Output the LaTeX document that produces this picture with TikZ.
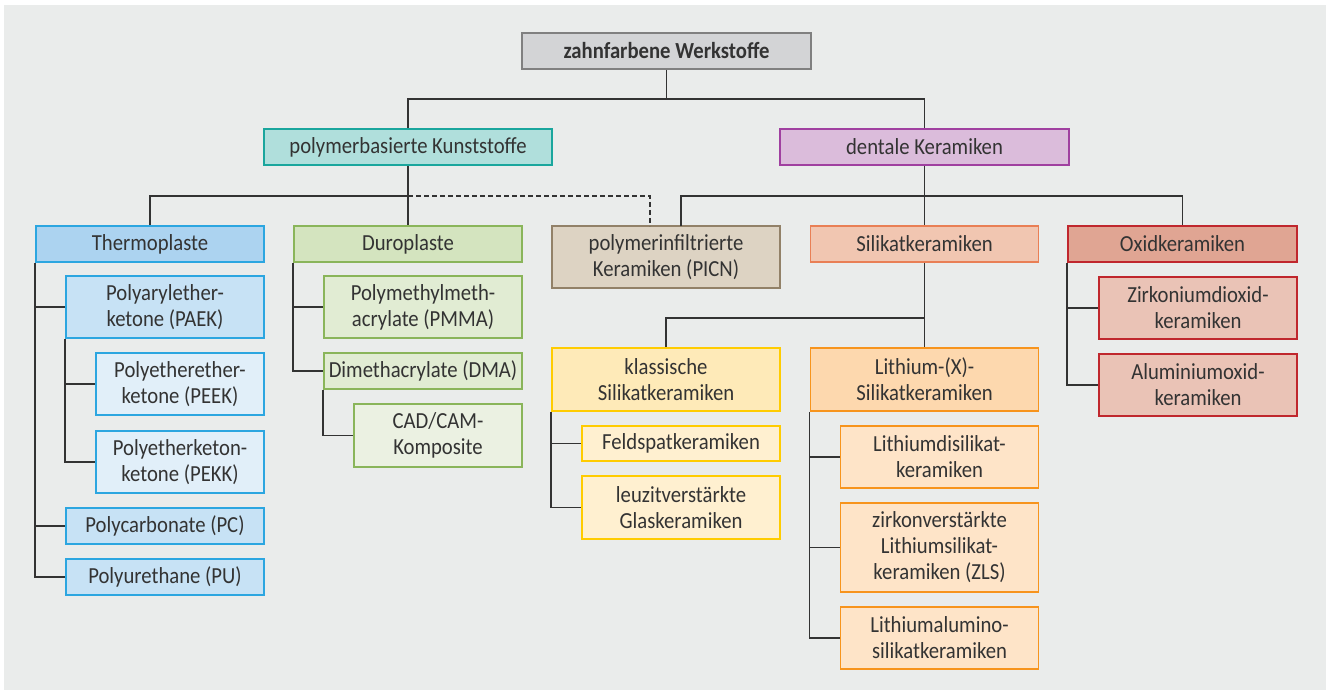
\documentclass[tikz,border=0pt]{standalone}
\usepackage{fontspec}
\setmainfont[FakeStretch=0.9]{Carlito}
\begin{document}
\begin{tikzpicture}[x=1pt,y=-1pt,
  every node/.style={font=\fontsize{23}{26}\selectfont, text=textc},
  box/.style={draw, line width=1.6pt, align=center, inner sep=0pt, anchor=center},
  conn/.style={draw=linec, line width=1.5pt},
]
\definecolor{textc}{HTML}{333333}
\definecolor{linec}{HTML}{333333}
\definecolor{panel}{HTML}{EAECEB}
\definecolor{rootF}{HTML}{D3D4D6}\definecolor{rootD}{HTML}{808080}
\definecolor{pkF}{HTML}{B0DFDC}\definecolor{pkD}{HTML}{1AA69D}
\definecolor{dkF}{HTML}{DBBCDB}\definecolor{dkD}{HTML}{A040A0}
\definecolor{thF}{HTML}{ACD3F0}\definecolor{thA}{HTML}{C7E2F5}\definecolor{thB}{HTML}{E1EFF9}\definecolor{thD}{HTML}{2CA6E0}
\definecolor{duF}{HTML}{D4E4BF}\definecolor{duA}{HTML}{E1ECD3}\definecolor{duB}{HTML}{EBF1E2}\definecolor{duD}{HTML}{8AB55A}
\definecolor{piF}{HTML}{DDD3C3}\definecolor{piD}{HTML}{928168}
\definecolor{siF}{HTML}{F1C6B1}\definecolor{siD}{HTML}{E97F55}
\definecolor{oxF}{HTML}{E0A593}\definecolor{oxA}{HTML}{EAC3B6}\definecolor{oxD}{HTML}{C0272D}
\definecolor{klF}{HTML}{FEEAB8}\definecolor{klA}{HTML}{FFF0D0}\definecolor{klD}{HTML}{FFCC00}
\definecolor{liF}{HTML}{FDD8AE}\definecolor{liA}{HTML}{FEE4C8}\definecolor{liD}{HTML}{F7941D}
\useasboundingbox (0,0) rectangle (1330,695);
\fill[white] (0,0) rectangle (1330,695);
\fill[panel] (4,5) rectangle (1326,690);
% level 0/1
\node[box, fill=rootF, draw=rootD, minimum width=289, minimum height=36, font=\fontsize{23}{26}\selectfont\bfseries] (root) at (666.5,51) {zahnfarbene Werkstoffe};
\node[box, fill=pkF, draw=pkD, minimum width=288, minimum height=36] (pk) at (408,147) {polymerbasierte Kunststoffe};
\node[box, fill=dkF, draw=dkD, minimum width=289, minimum height=36] (dk) at (924.5,147) {dentale Keramiken};
% level 2
\node[box, fill=thF, draw=thD, minimum width=228, minimum height=36] (thermo) at (150,244) {Thermoplaste};
\node[box, fill=duF, draw=duD, minimum width=228, minimum height=36] (duro) at (408,244) {Duroplaste};
\node[box, fill=piF, draw=piD, minimum width=228, minimum height=62] (picn) at (666,257) {polymerinfiltrierte\\Keramiken (PICN)};
\node[box, fill=siF, draw=siD, minimum width=228, minimum height=36] (silikat) at (924.5,244) {Silikatkeramiken};
\node[box, fill=oxF, draw=oxD, minimum width=229, minimum height=36] (oxid) at (1182.5,244) {Oxidkeramiken};
% thermoplaste
\node[box, fill=thA, draw=thD, minimum width=198, minimum height=62] (paek) at (165,307) {Polyarylether-\\ketone (PAEK)};
\node[box, fill=thB, draw=thD, minimum width=168, minimum height=62] (peek) at (180,384) {Polyetherether-\\ketone (PEEK)};
\node[box, fill=thB, draw=thD, minimum width=168, minimum height=62] (pekk) at (180,462) {Polyetherketon-\\ketone (PEKK)};
\node[box, fill=thA, draw=thD, minimum width=198, minimum height=36] (pc) at (165,526) {Polycarbonate (PC)};
\node[box, fill=thA, draw=thD, minimum width=198, minimum height=36] (pu) at (165,577) {Polyurethane (PU)};
% duroplaste
\node[box, fill=duA, draw=duD, minimum width=198, minimum height=62] (pmma) at (423,307) {Polymethylmeth-\\acrylate (PMMA)};
\node[box, fill=duA, draw=duD, minimum width=198, minimum height=36] (dma) at (423,371) {Dimethacrylate (DMA)};
\node[box, fill=duB, draw=duD, minimum width=168, minimum height=63] (cad) at (438,435.5) {CAD/CAM-\\Komposite};
% silikat
\node[box, fill=klF, draw=klD, minimum width=228, minimum height=63] (klass) at (666,379.5) {klassische\\Silikatkeramiken};
\node[box, fill=klA, draw=klD, minimum width=198, minimum height=35] (feld) at (681,443.5) {Feldspatkeramiken};
\node[box, fill=klA, draw=klD, minimum width=198, minimum height=63] (leuzit) at (681,507.5) {leuzitverstärkte\\Glaskeramiken};
\node[box, fill=liF, draw=liD, minimum width=228, minimum height=63] (lith) at (924.5,379.5) {Lithium-(X)-\\Silikatkeramiken};
\node[box, fill=liA, draw=liD, minimum width=198, minimum height=62] (ldis) at (939.5,457) {Lithiumdisilikat-\\keramiken};
\node[box, fill=liA, draw=liD, minimum width=198, minimum height=89] (zls) at (939.5,547.5) {zirkonverstärkte\\Lithiumsilikat-\\keramiken (ZLS)};
\node[box, fill=liA, draw=liD, minimum width=198, minimum height=62] (lalu) at (939.5,638) {Lithiumalumino-\\silikatkeramiken};
% oxid
\node[box, fill=oxA, draw=oxD, minimum width=198, minimum height=62] (zirk) at (1198,308) {Zirkoniumdioxid-\\keramiken};
\node[box, fill=oxA, draw=oxD, minimum width=198, minimum height=62] (alu) at (1198,385) {Aluminiumoxid-\\keramiken};
% junctions
\coordinate (j1) at (666.5,99);
\coordinate (j2) at (408,196);
\coordinate (j3) at (924.5,196);
\coordinate (j4) at (924.5,318);
\coordinate (picnL) at (650,226);
\coordinate (picnR) at (681,226);
% connectors
\draw[conn] (root.south) -- (j1);
\draw[conn] (pk.north) |- (j1) -| (dk.north);
\draw[conn] (pk.south) -- (duro.north);
\draw[conn] (thermo.north) |- (j2);
\draw[conn, dashed, dash pattern=on 5pt off 3pt] (j2) -| (picnL);
\draw[conn] (dk.south) -- (silikat.north);
\draw[conn] (picnR) |- (j3) -| (oxid.north);
\draw[conn] (silikat.south) -- (lith.north);
\draw[conn] (klass.north) |- (j4);
% thermoplaste tree
\draw[conn] (thermo.south west) |- (pu.west);
\draw[conn] (paek.west -| thermo.south west) -- (paek.west);
\draw[conn] (pc.west -| thermo.south west) -- (pc.west);
\draw[conn] (paek.south west) |- (pekk.west);
\draw[conn] (peek.west -| paek.south west) -- (peek.west);
% duroplaste tree
\draw[conn] (duro.south west) |- (dma.west);
\draw[conn] (pmma.west -| duro.south west) -- (pmma.west);
\draw[conn] (dma.south west) |- (cad.west);
% klassische tree
\draw[conn] (klass.south west) |- (leuzit.west);
\draw[conn] (feld.west -| klass.south west) -- (feld.west);
% lithium tree
\draw[conn] (lith.south west) |- (lalu.west);
\draw[conn] (ldis.west -| lith.south west) -- (ldis.west);
\draw[conn] (zls.west -| lith.south west) -- (zls.west);
% oxid tree
\draw[conn] (oxid.south west) |- (alu.west);
\draw[conn] (zirk.west -| oxid.south west) -- (zirk.west);
\end{tikzpicture}
\end{document}
